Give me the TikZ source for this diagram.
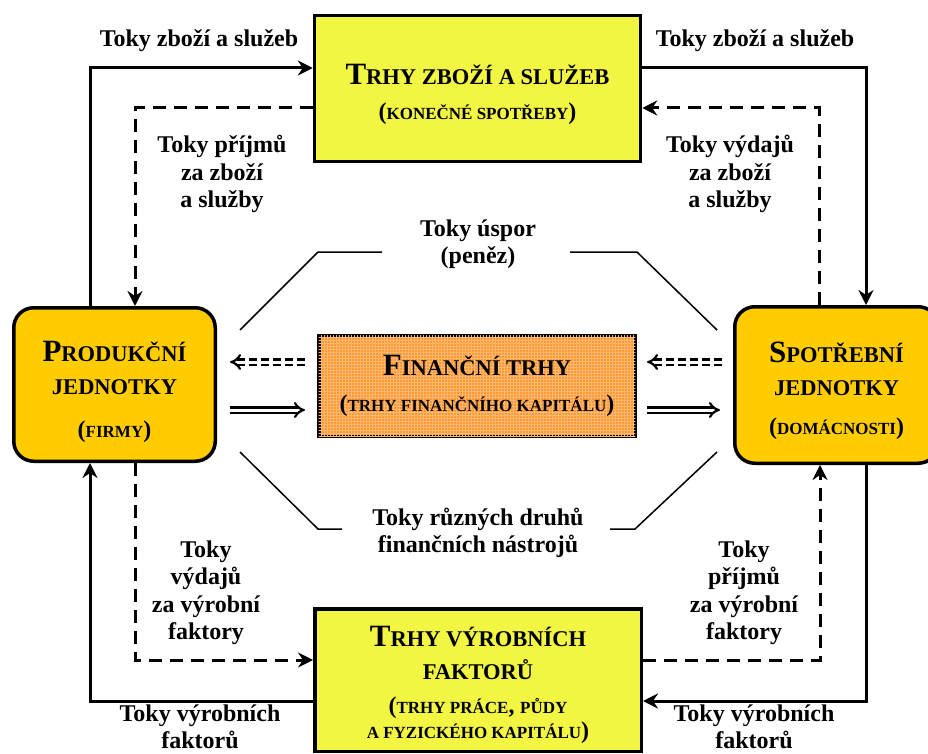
\documentclass[tikz,border=0pt]{standalone}
\usepackage{fontspec}
\setmainfont{Liberation Serif}
\usetikzlibrary{arrows.meta,patterns}
\definecolor{zluta}{RGB}{242,245,66}
\definecolor{zlata}{RGB}{255,204,0}
\definecolor{oranzova}{RGB}{255,153,51}
\newcommand{\velke}[1]{{\fontsize{31}{31}\selectfont #1}}
\newcommand{\male}[1]{{\fontsize{22.5}{22.5}\selectfont #1}}
\newcommand{\drobne}[1]{{\fontsize{17}{17}\selectfont #1}}
\newcommand{\zav}[1]{{\fontsize{24}{24}\selectfont #1}}
\newcommand{\nahore}[1]{\rule{0pt}{#1}}
\tikzset{
	trh/.style={draw,line width=3.5pt,fill=zluta,align=center,inner sep=0pt,
		font=\fontsize{22.5}{34}\selectfont\bfseries},
	jednotka/.style={trh,fill=zlata,rounded corners=20pt},
	popis/.style={align=center,inner sep=0pt,font=\fontsize{24}{27.5}\selectfont\bfseries},
	tok/.style={line width=3pt,-{Stealth[length=15pt,width=15pt,inset=5pt]}},
	tokpenez/.style={tok,dash pattern=on 13pt off 8pt},
	dvoj/.style={double,double distance=3pt,line width=2.2pt,-{Implies[scale=1.5]}},
}
\begin{document}
\begin{tikzpicture}[x=1pt,y=-1pt]
			\useasboundingbox (0,0) rectangle (928,754);
			\node[trh,minimum width=326pt,minimum height=146pt] (zbozi) at (477.5,88.5)
			{\nahore{33pt}\velke{T}\male{RHY ZBOŽÍ A SLUŽEB}\\[1pt]\zav{(}\drobne{KONEČNÉ SPOTŘEBY}\zav{)}};
			\node[trh,minimum width=326.5pt,minimum height=142.5pt] (vyrob) at (478,680)
			{\nahore{31pt}\velke{T}\male{RHY VÝROBNÍCH}\\[-1pt]\male{FAKTORŮ}\\[0pt]
			\zav{(}\drobne{TRHY PRÁCE}\zav{,} \drobne{PŮDY}\\[-9pt]\drobne{A FYZICKÉHO KAPITÁLU}\zav{)}};
			\node[jednotka,minimum width=201.5pt,minimum height=153.5pt] (firmy) at (114.5,384.5)
			{\nahore{35pt}\velke{P}\male{RODUKČNÍ}\\[-1pt]\male{JEDNOTKY}\\[9pt]\zav{(}\drobne{FIRMY}\zav{)}};
			\node[jednotka,minimum width=203.5pt,minimum height=156.5pt] (domac) at (836.5,385)
			{\nahore{33pt}\velke{S}\male{POTŘEBNÍ}\\[-1pt]\male{JEDNOTKY}\\[5pt]\zav{(}\drobne{DOMÁCNOSTI}\zav{)}};
			\node[trh,fill=oranzova,postaction={pattern=grid,pattern color=oranzova!70!white},
			minimum width=316.5pt,minimum height=100.5pt] (fin) at (477,386)
			{\velke{F}\male{INANČNÍ TRHY}\\[2pt]\zav{(}\drobne{TRHY FINANČNÍHO KAPITÁLU}\zav{)}};
			\node[popis] (zbozi1) at (199,41) {Toky zboží a služeb};
			\node[popis] (zbozi2) at (755,41) {Toky zboží a služeb};
			\node[popis] (prijmy1) at (222,174) {Toky příjmů\\za zboží\\a služby};
			\node[popis] (vydaje1) at (730,174) {Toky výdajů\\za zboží\\a služby};
			\node[popis] (vydaje2) at (206,593) {Toky\\výdajů\\za výrobní\\faktory};
			\node[popis] (prijmy2) at (744,593) {Toky\\příjmů\\za výrobní\\faktory};
			\node[popis] (faktory1) at (200,727) {Toky výrobních\\faktorů};
			\node[popis] (faktory2) at (754,727) {Toky výrobních\\faktorů};
			\node[popis] (uspory) at (478,244) {Toky úspor\\(peněz)};
			\node[popis] (nastroje) at (478,533) {Toky různých druhů\\finančních nástrojů};
			\draw[tok] ([xshift=-24.5pt]firmy.north) |- ([yshift=20.5pt]zbozi.west);
			\draw[tokpenez] ([yshift=-19.5pt]zbozi.west) -| ([xshift=20.5pt]firmy.north);
			\draw[tok] ([yshift=20.5pt]zbozi.east) -| ([xshift=29.5pt]domac.north);
			\draw[tokpenez] ([xshift=-17.5pt]domac.north) |- ([yshift=-19.5pt]zbozi.east);
			\draw[tok] ([xshift=29.5pt]domac.south) |- ([yshift=-21pt]vyrob.east);
			\draw[tokpenez] ([yshift=20pt]vyrob.east) -| ([xshift=-16.5pt]domac.south);
			\draw[tok] ([yshift=-21pt]vyrob.west) -| ([xshift=-24.5pt]firmy.south);
			\draw[tokpenez] ([xshift=21pt]firmy.south) |- ([yshift=20pt]vyrob.west);
			\draw[dvoj,dash pattern=on 8pt off 4pt,shorten <=12pt,shorten >=13pt]
			([yshift=24pt]fin.west) -- ([yshift=22.5pt]firmy.east);
			\draw[dvoj,dash pattern=on 8pt off 4pt,shorten <=11pt,shorten >=10pt]
			([yshift=23pt]domac.west) -- ([yshift=24pt]fin.east);
			\draw[dvoj,shorten <=13pt,shorten >=12pt]
			([yshift=-25.5pt]firmy.east) -- ([yshift=-24pt]fin.west);
			\draw[dvoj,shorten <=10pt,shorten >=13pt]
			([yshift=-24pt]fin.east) -- ([yshift=-25pt]domac.west);
			\draw[line width=1.5pt] (240,330) -- (318,252) -- (382,252);
			\draw[line width=1.5pt] (570,252) -- (637,252) -- (717,330);
			\draw[line width=1.5pt] (240,452) -- (318,529) -- (342,529);
			\draw[line width=1.5pt] (610,529) -- (635,529) -- (717,452);
\end{tikzpicture}
\end{document}
